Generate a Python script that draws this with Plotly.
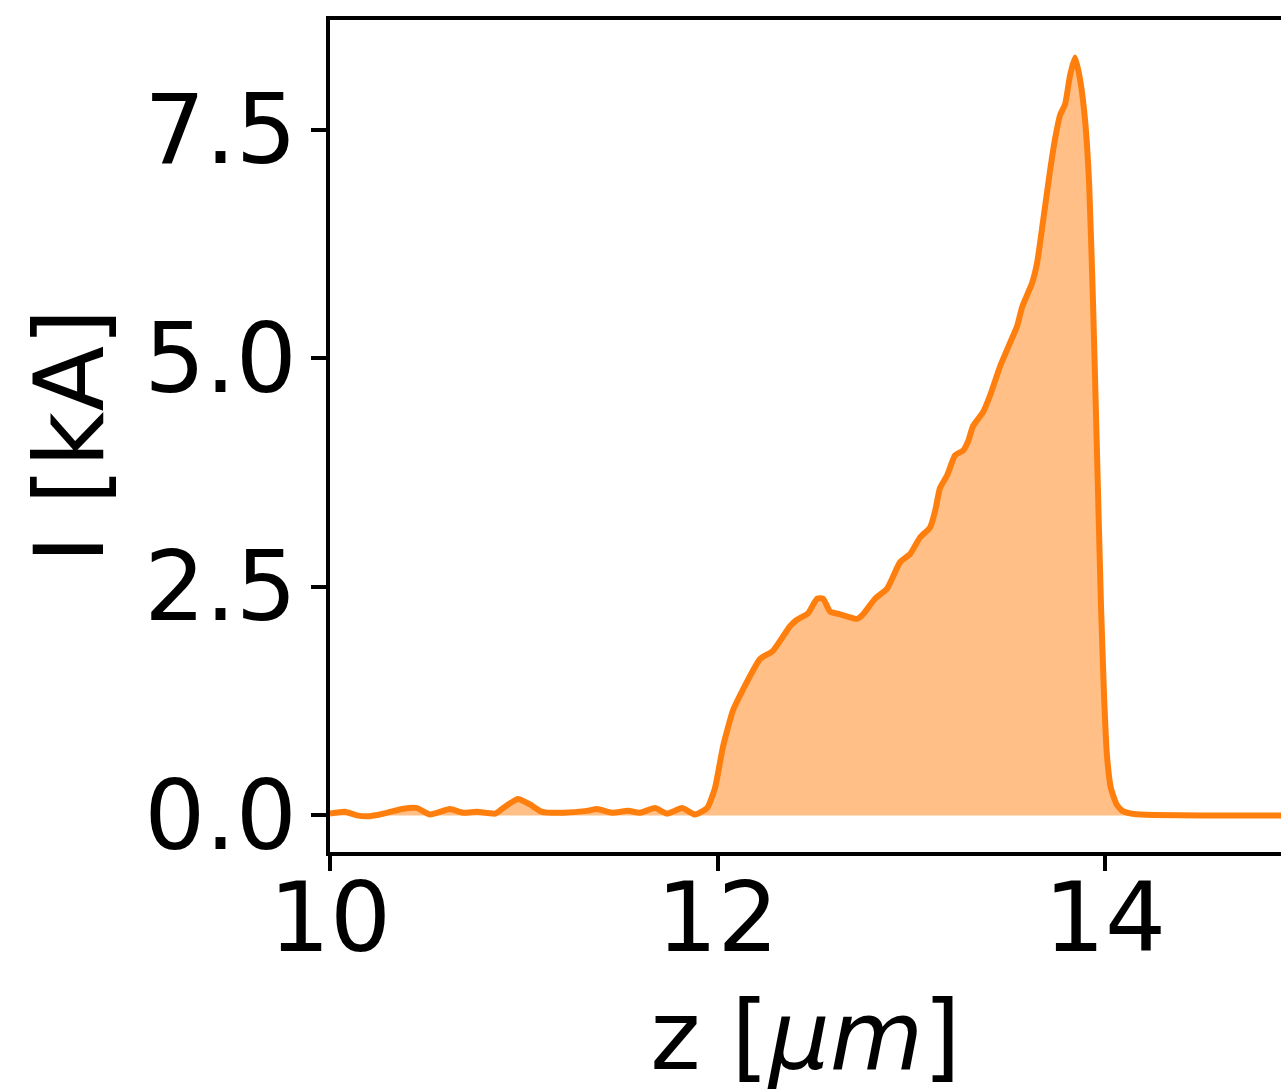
import plotly.graph_objects as go

z_um = [10.000, 10.077, 10.139, 10.191, 10.258, 10.372, 10.449, 10.516, 10.619, 10.686,
        10.759, 10.852, 10.893, 10.970, 11.032, 11.094, 11.203, 11.326, 11.378, 11.455,
        11.538, 11.600, 11.677, 11.739, 11.817, 11.884, 11.946, 11.987, 12.028, 12.080,
        12.132, 12.219, 12.286, 12.374, 12.410, 12.467, 12.514, 12.545, 12.581, 12.632,
        12.720, 12.751, 12.813, 12.875, 12.942, 12.994, 13.045, 13.097, 13.123, 13.148,
        13.185, 13.226, 13.267, 13.293, 13.319, 13.370, 13.406, 13.458, 13.510, 13.546,
        13.572, 13.623, 13.649, 13.680, 13.716, 13.742, 13.768, 13.794, 13.819, 13.845,
        13.871, 13.897, 13.918, 13.938, 13.958, 13.979, 13.995, 14.010, 14.030, 14.060,
        14.090, 14.150, 14.250, 14.500, 14.908]

current_kA = [0.02, 0.04, 0.00, -0.01, 0.01, 0.07, 0.08, 0.01, 0.07, 0.03,
              0.04, 0.02, 0.08, 0.18, 0.12, 0.04, 0.03, 0.05, 0.07, 0.03,
              0.05, 0.03, 0.08, 0.02, 0.08, 0.01, 0.08, 0.30, 0.75, 1.15,
              1.38, 1.71, 1.80, 2.07, 2.14, 2.21, 2.37, 2.37, 2.23, 2.20,
              2.15, 2.20, 2.37, 2.48, 2.77, 2.86, 3.04, 3.15, 3.33, 3.58,
              3.72, 3.94, 3.99, 4.09, 4.26, 4.41, 4.59, 4.91, 5.17, 5.35,
              5.56, 5.82, 6.04, 6.50, 7.05, 7.40, 7.66, 7.78, 8.09, 8.29,
              8.05, 7.60, 6.90, 5.60, 4.00, 2.30, 1.30, 0.65, 0.30, 0.12,
              0.05, 0.015, 0.005, 0.0, 0.0]

x_ticks = [10, 12, 14]
x_ticklabels = ["10", "12", "14"]
y_ticks = [0.0, 2.5, 5.0, 7.5]
y_ticklabels = ["0.0", "2.5", "5.0", "7.5"]

FONT = "DejaVu Sans"

fig = go.Figure()
fig.add_trace(go.Scatter(
    x=z_um, y=current_kA, mode="lines",
    line=dict(color="#ff7f0e", width=6, shape="spline", smoothing=0.5),
    fill="tozeroy", fillcolor="rgba(255,127,14,0.5)",
    showlegend=False, hoverinfo="skip",
))

fig.update_layout(
    width=1281, height=1092,
    margin=dict(l=330, r=0, t=20, b=223, pad=0),
    paper_bgcolor="white", plot_bgcolor="white",
    font=dict(family=FONT, color="black", size=96),
    xaxis=dict(
        range=[10, 14.908], tickvals=x_ticks, ticktext=x_ticklabels,
        showgrid=False, zeroline=False,
        showline=True, linecolor="black", linewidth=4, mirror=True,
        ticks="outside", ticklen=15, tickwidth=4, tickcolor="black",
        tickfont=dict(family=FONT, size=96, color="black"),
        ticklabelstandoff=-35,
        title=dict(text="z [<i>μm</i>]", font=dict(family=FONT, size=96, color="black"), standoff=51),
    ),
    yaxis=dict(
        range=[-0.40, 8.70], tickvals=y_ticks, ticktext=y_ticklabels,
        showgrid=False, zeroline=False,
        showline=True, linecolor="black", linewidth=4, mirror=False,
        ticks="outside", ticklen=15, tickwidth=4, tickcolor="black",
        tickfont=dict(family=FONT, size=96, color="black"),
        ticklabelstandoff=-5,
        title=dict(text="I [kA]", font=dict(family=FONT, size=96, color="black"), standoff=10),
    ),
)

fig.write_html(
    "out.html",
    config={"displayModeBar": False, "staticPlot": True},
    post_script="document.body.style.margin='0';document.body.style.overflow='hidden';",
)
